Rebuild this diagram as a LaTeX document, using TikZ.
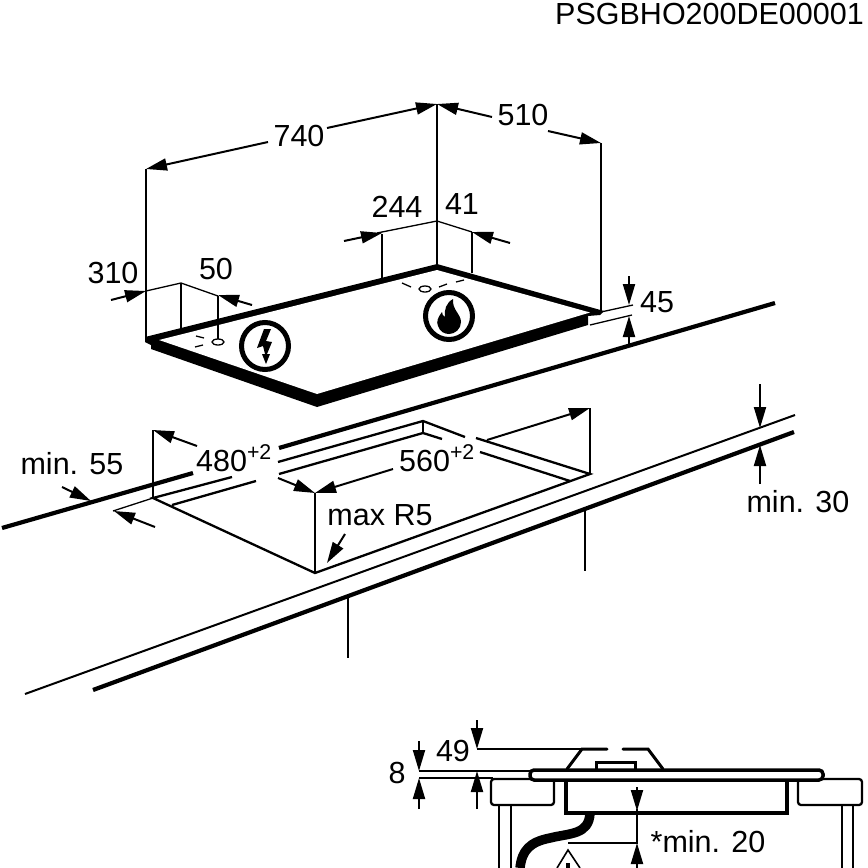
\documentclass[tikz,border=0pt]{standalone}
\usepackage{fontspec}
\setmainfont{Liberation Sans}
\usetikzlibrary{arrows.meta}

\newcommand{\tol}{\raisebox{3pt}{\textsuperscript{+2}}}

\begin{document}
\begin{tikzpicture}[x=1pt, y=-1pt, line join=miter,
    label/.style = {inner sep=0pt, font=\fontsize{30.5}{31}\selectfont},
    thin line/.style = {line width=1.3pt},
    edge line/.style = {line width=2.3pt},
    heavy line/.style = {line width=4.2pt},
    dim/.style = {line width=2pt, -{Triangle[length=21pt,width=12pt]}},
    badge/.style = {draw, circle, line width=5pt, minimum size=47pt, inner sep=0pt}]
    \useasboundingbox (0,0) rectangle (868,868);
    % code of the sheet
    \node[label] (code) [anchor=east] at (864,14) {PSGBHO200DE00001};
    % hob
    \fill (145,337) -- (437,264) -- (604,311) -- (600,315) -- (588,316) -- (588,325) -- (317,407) -- (151,349) -- (151,345) -- (145,342) -- cycle;
    \fill[white] (159,340) -- (437,270) -- (590,312.5) -- (317,394) -- cycle;
    \node[badge] (electric) at (265,346) {};
    \node[badge] (gas) at (449,316) {};
    \fill (264,329) -- (271,329) -- (266,341) -- (272,342) -- (267,354) -- (270,354) -- (266,364) -- (262,354) -- (265,354) -- (263,346) -- (257,348) -- cycle;
    \fill (453,299) .. controls (446,303) and (444,310) .. (445,317) .. controls (443,316) and (442,314) .. (442,312) .. controls (438,317) and (436,322) .. (438,326) .. controls (440,332) and (445,334) .. (449,334) .. controls (455,334) and (461,329) .. (461,322) .. controls (461,314) and (452,310) .. (453,299) -- cycle;
    \draw[thin line] (218,342) ellipse (6 and 3);
    \draw[thin line] (425,289) ellipse (6 and 3);
    \foreach \xa/\ya/\xb/\yb in {196/336/204/338, 195/347/203/345, 402/283/411/287, 439/287/447/284, 456/282/464/280}
      \draw[thin line] (\xa,\ya) -- (\xb,\yb);
    % dimensions of the hob
    \draw[thin line] (146,169) -- (146,338);
    \draw[thin line] (437,104) -- (437,266);
    \draw[thin line] (601,143) -- (601,312);
    \draw[dim] (268,142) -- (146,169);
    \draw[dim] (327,128) -- (437,104);
    \draw[dim] (492,117) -- (437,104);
    \draw[dim] (548,131) -- (601,143);
    \node[label] (w740) at (299,136) {740};
    \node[label] (d510) at (523,115) {510};
    \draw[thin line] (382,234) -- (382,278);
    \draw[thin line] (472,232) -- (472,273);
    \draw[thin line] (377,233) -- (437,221) -- (472,232);
    \draw[dim] (344,241) -- (382,233);
    \draw[dim] (510,243) -- (472,232);
    \node[label] (d244) at (397,207) {244};
    \node[label] (d41) at (462,204) {41};
    \draw[thin line] (181,283) -- (181,328);
    \draw[thin line] (218,296) -- (218,339);
    \draw[thin line] (146,291) -- (181,283) -- (218,296);
    \draw[dim] (111,300) -- (146,291);
    \draw[dim] (252,305) -- (218,295);
    \node[label] (d310) at (113,273) {310};
    \node[label] (d50) at (216,269) {50};
    \draw[thin line] (601,312) -- (633,305);
    \draw[thin line] (590,325) -- (632,315);
    \draw[dim] (629,276) -- (629,305);
    \draw[dim] (629,345) -- (629,316);
    \node[label] (h45) at (657,302) {45};
    % worktop
    \draw[heavy line] (2,528) -- (193,473);
    \draw[heavy line] (279,448) -- (775,303);
    \draw[line width=2pt] (25,694) -- (795,415);
    \draw[heavy line] (93,690) -- (794,432);
    \draw[line width=1.6pt] (348,598) -- (348,658);
    \draw[line width=1.6pt] (585,510) -- (585,571);
    % cut-out
    \draw[edge line] (232,477) -- (153,498) -- (315,573) -- (590,474) -- (476,438);
    \draw[edge line] (172,505) -- (256,481);
    \draw[edge line] (278,462) -- (423,421) -- (465,437);
    \draw[edge line] (279,474) -- (423,433) -- (442,439);
    \draw[edge line] (423,421) -- (423,433);
    \draw[edge line] (480,452) -- (570,481);
    \draw[thin line] (153,430) -- (153,498);
    \draw[thin line] (315,493) -- (315,573);
    \draw[thin line] (590,408) -- (590,474);
    \draw[thin line] (153,498) -- (113,511);
    \draw[dim] (197,446) -- (153,430);
    \draw[dim] (278,478) -- (315,493);
    \draw[dim] (393,469) -- (315,493);
    \draw[dim] (487,440) -- (590,408);
    \node[label] (w480) at (234,458) {480\tol};
    \node[label] (w560) at (437,458) {560\tol};
    \node[label] (rmax) at (380,515) {max R5};
    \draw[dim] (345,534) -- (327,563);
    \node[label] (m55) at (72,464) {min. 55};
    \draw[dim] (62,487) -- (91,501);
    \draw[dim] (155,527) -- (114,511);
    \node[label] (m30) at (798,502) {min. 30};
    \draw[dim] (760,384) -- (760,428);
    \draw[dim] (760,484) -- (760,445);
    % section
    \draw[edge line, rounded corners=3pt] (491,779) -- (554,779) -- (554,805) -- (491,805) -- cycle;
    \draw[edge line, rounded corners=3pt] (798,779) -- (862,779) -- (862,805) -- (798,805) -- cycle;
    \draw[edge line] (499,805) -- (499,868);
    \draw[edge line] (511,805) -- (511,868);
    \draw[edge line] (842,805) -- (842,868);
    \draw[edge line] (853,805) -- (853,868);
    \draw[line width=3.5pt, fill=white, rounded corners=4pt] (530,770) rectangle (823,780);
    \draw[line width=4pt] (566,781) -- (566,813) -- (787,813) -- (787,781);
    \draw[line width=9.5pt] (590,813) .. controls (589,835) and (570,833) .. (550,838) .. controls (530,842) and (522,850) .. (520,868);
    \draw[line width=3pt, line cap=round] (567,769) -- (582,749) -- (607,749);
    \draw[line width=3pt, line cap=round] (623,749) -- (648,749) -- (663,769);
    \draw[line width=3pt] (596,769) -- (596,762) -- (635,762) -- (635,769);
    \draw[thin line] (477,749) -- (582,749);
    \draw[thin line] (419,771) -- (530,771);
    \draw[thin line] (419,778) -- (493,778);
    \draw[thin line] (637,809) -- (637,843) -- (568,843);
    \draw[line width=1.6pt] (557,868) -- (568,850) -- (580,868);
    \draw[line width=4pt] (568,863) -- (568,868);
    \draw[dim] (477,720) -- (477,749);
    \draw[dim] (419,741) -- (419,771);
    \draw[dim] (419,809) -- (419,778);
    \draw[dim] (477,809) -- (477,771);
    \draw[dim] (637,787) -- (637,811);
    \draw[dim] (637,868) -- (637,843);
    \node[label] (h49) at (453,751) {49};
    \node[label] (h8) at (397,773) {8};
    \node[label] (m20) at (708,842) {*min. 20};
  \end{tikzpicture}
\end{document}
